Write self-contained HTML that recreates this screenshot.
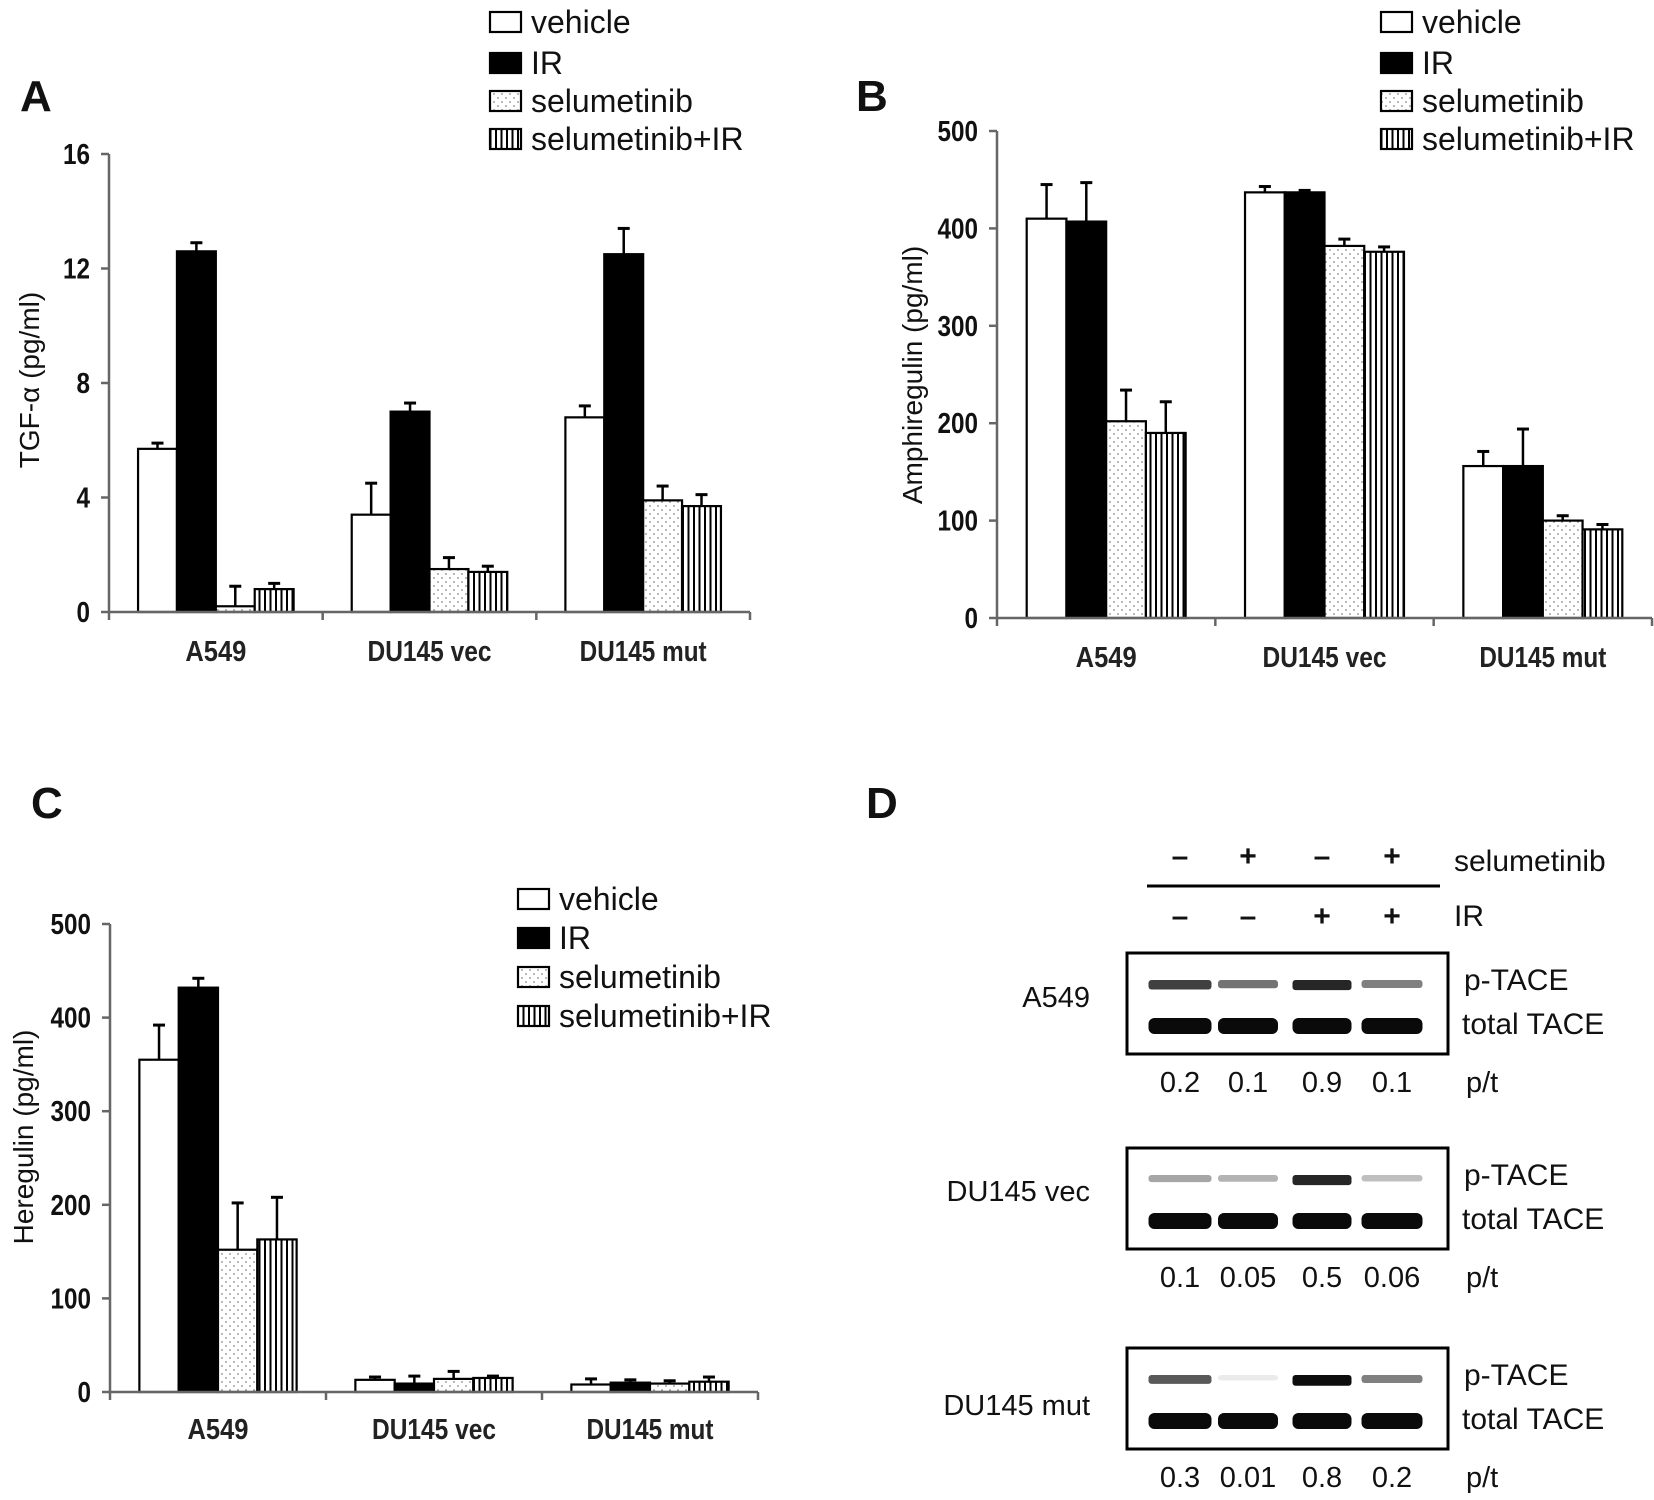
<!DOCTYPE html>
<html><head><meta charset="utf-8">
<style>
html,body{margin:0;padding:0;background:#fff;}
svg{display:block;font-family:"Liberation Sans",Arial,sans-serif;}
</style></head>
<body>
<svg id="fig" width="1654" height="1500" viewBox="0 0 1654 1500" xmlns="http://www.w3.org/2000/svg">
<defs>
<pattern id="dots" width="8" height="8" patternUnits="userSpaceOnUse">
<rect width="8" height="8" fill="#fff"/><circle cx="2" cy="2" r="0.9" fill="#888"/><circle cx="6" cy="6" r="0.9" fill="#888"/>
</pattern>
<pattern id="stripes" width="5.5" height="10" patternUnits="userSpaceOnUse">
<rect width="5.5" height="10" fill="#fff"/><rect x="0" width="2" height="10" fill="#000"/>
</pattern>
</defs>
</svg>
<script>
const categories = ["A549", "DU145 vec", "DU145 mut"];
const seriesNames = ["vehicle", "IR", "selumetinib", "selumetinib+IR"];
// Panel A TGF-alpha
const tgfValues = [[5.7, 12.6, 0.2, 0.8], [3.4, 7.0, 1.5, 1.4], [6.8, 12.5, 3.9, 3.7]];
const tgfErrors = [[0.2, 0.3, 0.7, 0.2], [1.1, 0.3, 0.4, 0.2], [0.4, 0.9, 0.5, 0.4]];
const tgfTicks = [0, 4, 8, 12, 16];
// Panel B Amphiregulin
const amphValues = [[410, 407, 202, 190], [437, 437, 382, 376], [156, 156, 100, 91]];
const amphErrors = [[35, 40, 32, 32], [6, 2, 7, 5], [15, 38, 5, 5]];
const amphTicks = [0, 100, 200, 300, 400, 500];
// Panel C Heregulin
const hrgValues = [[355, 432, 152, 163], [13, 9, 14, 15], [8, 10, 9, 11]];
const hrgErrors = [[37, 10, 50, 45], [3, 8, 8, 2], [6, 3, 3, 5]];
const hrgTicks = [0, 100, 200, 300, 400, 500];
// Panel D blots
const blotCells = ["A549", "DU145 vec", "DU145 mut"];
const selSigns = ["\u2013", "+", "\u2013", "+"];
const irSigns = ["\u2013", "\u2013", "+", "+"];
const ptRatios = [["0.2", "0.1", "0.9", "0.1"], ["0.1", "0.05", "0.5", "0.06"], ["0.3", "0.01", "0.8", "0.2"]];
const pBandIntensity = [[0.75, 0.55, 0.85, 0.5], [0.35, 0.3, 0.85, 0.25], [0.65, 0.08, 0.95, 0.5]];
const tBandIntensity = [[1, 1, 1, 1], [1, 1, 1, 1], [1, 1, 1, 1]];

const NS = "http://www.w3.org/2000/svg";
const svg = document.getElementById("fig");
const fills = ["#fff", "#000", "url(#dots)", "url(#stripes)"];
const serKeys = ["vehicle", "ir", "selumetinib", "selumetinib-ir"];

function mk(tag, attrs, parent) {
  const e = document.createElementNS(NS, tag);
  for (const k in attrs) e.setAttribute(k, attrs[k]);
  (parent || svg).appendChild(e);
  return e;
}
function txt(s, attrs, parent) { const e = mk("text", attrs, parent); e.textContent = s; return e; }

function drawChart(cfg) {
  const g = mk("g", {});
  
  
  const yMax = cfg.ticks[cfg.ticks.length - 1];
  const yScale = v => cfg.y0 - (v / yMax) * (cfg.y0 - cfg.yTop);
  const gw = (cfg.xEnd - cfg.x0) / categories.length;
  const bw = gw * 0.182, off = gw * 0.136;
  const xBar = (c, s) => cfg.x0 + c * gw + off + s * bw;
  // axes
  const ya = mk("line", {x1: cfg.x0, y1: cfg.yTop, x2: cfg.x0, y2: cfg.y0, stroke: "#666", "stroke-width": 2.5}, g);
  
  
  cfg.ticks.forEach(t => {
    const y = yScale(t);
    mk("line", {x1: cfg.x0 - 8, y1: y, x2: cfg.x0, y2: y, stroke: "#666", "stroke-width": 2.5}, g);
    const s = String(t);
    const tl = txt(s, {x: cfg.x0 - 19, y: y + 10, "text-anchor": "end", "font-size": 29, "font-weight": "bold", fill: "#111", textLength: s.length * 13.5, lengthAdjust: "spacingAndGlyphs"}, g);
    
    
  });
  const yt = txt(cfg.yTitle, {transform: `translate(${cfg.titleX},${cfg.titleY}) rotate(-90)`, "text-anchor": "middle", "font-size": 28, fill: "#111"}, g);
  
  
  // bars
  categories.forEach((cat, c) => {
    seriesNames.forEach((sn, s) => {
      const v = cfg.values[c][s], e = cfg.errors[c][s];
      const x = xBar(c, s), y = yScale(v);
      const cx = x + bw / 2, ye = yScale(v + e);
      const el = mk("line", {x1: cx, y1: y, x2: cx, y2: ye, stroke: "#000", "stroke-width": 2.5}, g);
      
      
      mk("line", {x1: cx - 6, y1: ye, x2: cx + 6, y2: ye, stroke: "#000", "stroke-width": 3}, g);
      const r = mk("rect", {x: x, y: y, width: bw, height: cfg.y0 - y, fill: fills[s], stroke: "#000", "stroke-width": 2.2}, g);
      
      
    });
    const lw = [61, 124, 127][c];
    const cl = txt(cat, {x: cfg.x0 + (c + 0.5) * gw, y: cfg.labelY, "text-anchor": "middle", "font-size": 29, "font-weight": "bold", fill: "#222", textLength: lw, lengthAdjust: "spacingAndGlyphs"}, g);
    
    
  });
  const xa = mk("line", {x1: cfg.x0, y1: cfg.y0, x2: cfg.xEnd, y2: cfg.y0, stroke: "#666", "stroke-width": 2.5}, g);
  
  
  for (let i = 0; i <= categories.length; i++) {
    const x = cfg.x0 + i * gw;
    mk("line", {x1: x, y1: cfg.y0, x2: x, y2: cfg.y0 + 8, stroke: "#666", "stroke-width": 2.5}, g);
  }
  // legend
  const lg = mk("g", {}, g);
  
  
  seriesNames.forEach((sn, s) => {
    const y = cfg.legY[s];
    mk("rect", {x: cfg.legX, y: y - 10, width: 31, height: 20, fill: fills[s], stroke: "#000", "stroke-width": 2.2}, lg);
    const lt = txt(sn, {x: cfg.legX + 41, y: y + 11, "font-size": 32, fill: "#111"}, lg);
    
    
  });
  const pl = txt(cfg.letter, {x: cfg.letterX, y: cfg.letterY, "font-size": 44, "font-weight": "bold", fill: "#111"}, g);
  
  
}

drawChart({name: "chart-a-tgf-alpha", values: tgfValues, errors: tgfErrors, ticks: tgfTicks, x0: 109, xEnd: 750, y0: 612, yTop: 154,
  yTitle: "TGF-\u03b1 (pg/ml)", titleX: 39, titleY: 380, labelY: 661, legX: 490, legY: [22, 63, 101, 139], letter: "A", letterX: 20, letterY: 111});
drawChart({name: "chart-b-amphiregulin", values: amphValues, errors: amphErrors, ticks: amphTicks, x0: 997, xEnd: 1652, y0: 618, yTop: 131,
  yTitle: "Amphiregulin (pg/ml)", titleX: 922, titleY: 375, labelY: 667, legX: 1381, legY: [22, 63, 101, 139], letter: "B", letterX: 856, letterY: 111});
drawChart({name: "chart-c-heregulin", values: hrgValues, errors: hrgErrors, ticks: hrgTicks, x0: 110, xEnd: 758, y0: 1392, yTop: 924,
  yTitle: "Heregulin (pg/ml)", titleX: 33, titleY: 1137, labelY: 1439, legX: 518, legY: [899, 938, 977, 1016], letter: "C", letterX: 31, letterY: 818});

// Panel D
(function () {
  const g = mk("g", {});
  
  
  const pl = txt("D", {x: 866, y: 818, "font-size": 44, "font-weight": "bold", fill: "#111"}, g);
  
  
  const lanes = [1180, 1248, 1322, 1392];
  const laneW = [63, 60, 59, 61];
  selSigns.forEach((s, i) => txt(s, {x: lanes[i], y: 866, "text-anchor": "middle", "font-size": 30, "font-weight": "bold", fill: "#111"}, g));
  irSigns.forEach((s, i) => txt(s, {x: lanes[i], y: 926, "text-anchor": "middle", "font-size": 30, "font-weight": "bold", fill: "#111"}, g));
  txt("selumetinib", {x: 1454, y: 871, "font-size": 30, fill: "#111"}, g);
  txt("IR", {x: 1454, y: 926, "font-size": 30, fill: "#111"}, g);
  mk("line", {x1: 1147, y1: 886, x2: 1440, y2: 886, stroke: "#000", "stroke-width": 3}, g);
  const boxY = [953, 1148, 1348];
  const labY = [1007, 1201, 1415];
  blotCells.forEach((cell, r) => {
    const by = boxY[r];
    const bg = mk("g", {}, g);
    
    
    mk("rect", {x: 1127, y: by, width: 321, height: 101, fill: "#fff", stroke: "#000", "stroke-width": 3}, bg);
    lanes.forEach((lx, i) => {
      const pi = pBandIntensity[r][i];
      const gray = Math.round(255 * (1 - pi));
      mk("rect", {x: lx - laneW[i] / 2, y: by + 27, width: laneW[i], height: 5 + pi * 6, rx: 3, fill: `rgb(${gray},${gray},${gray})`}, bg);
      const ti = tBandIntensity[r][i];
      const tg = Math.round(255 * (1 - ti)) + 10;
      mk("rect", {x: lx - laneW[i] / 2, y: by + 65, width: laneW[i], height: 16, rx: 6, fill: `rgb(${tg},${tg},${tg})`}, bg);
      txt(ptRatios[r][i], {x: lx, y: by + 139, "text-anchor": "middle", "font-size": 29, fill: "#111"}, g);
    });
    txt("p-TACE", {x: 1464, y: by + 37, "font-size": 30, fill: "#111"}, g);
    txt("total TACE", {x: 1462, y: by + 81, "font-size": 30, fill: "#111"}, g);
    txt("p/t", {x: 1466, y: by + 139, "font-size": 29, fill: "#111"}, g);
    const cl = txt(cell, {x: 1090, y: labY[r], "text-anchor": "end", "font-size": 29, fill: "#111"}, g);
    
    
  });
})();
</script>
</body></html>
